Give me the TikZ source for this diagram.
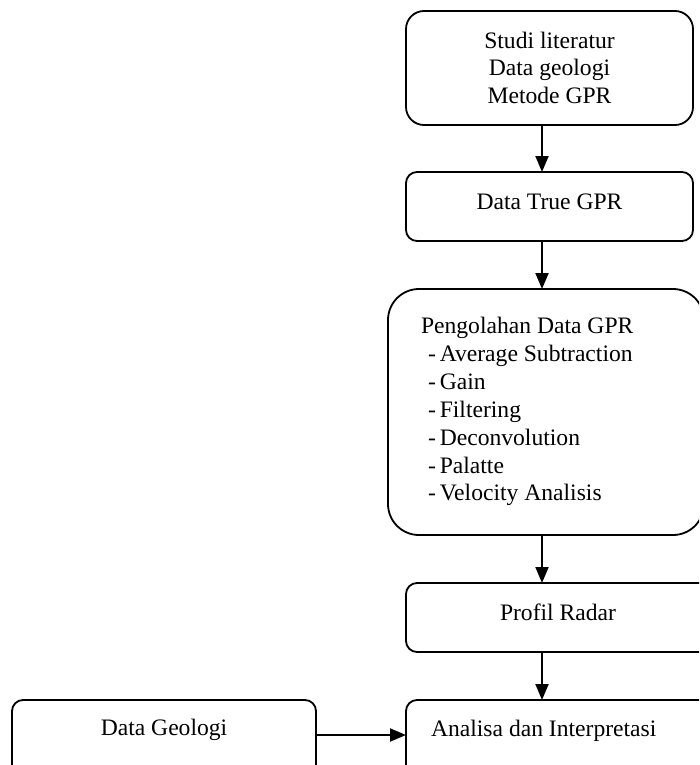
\documentclass[tikz,border=0pt]{standalone}
\usepackage{fontspec}
\setmainfont{Liberation Serif}
\usetikzlibrary{arrows.meta}
\begin{document}
\begin{tikzpicture}[x=1pt,y=-1pt,
  box/.style={draw=black, line width=1.8pt, rectangle, inner sep=0pt, outer sep=0pt},
  lbl/.style={inner sep=0pt, outer sep=0pt, font=\fontsize{23.6}{27.8}\selectfont},
  arr/.style={line width=2pt, -{Triangle[length=16pt,width=13pt]}}]
\useasboundingbox (0,0) rectangle (699,765);
\clip (0,0) rectangle (699,765);
% boxes
\node[box, minimum width=287pt, minimum height=114pt, rounded corners=18pt] (b1) at (549.5,68) {};
\node[box, minimum width=287pt, minimum height=69pt, rounded corners=11pt] (b2) at (549.5,206.5) {};
\node[box, minimum width=316pt, minimum height=246pt, rounded corners=31pt] (b3) at (546,412) {};
\node[box, minimum width=306pt, minimum height=69pt, rounded corners=11pt] (b4) at (559,617.5) {};
\node[box, minimum width=306pt, minimum height=90pt, rounded corners=11pt] (b5) at (559,745) {};
\node[box, minimum width=304pt, minimum height=90pt, rounded corners=11pt] (dg) at (164,745) {};
% texts
\node[lbl, anchor=base] (t1a) at (549.5,49) {Studi literatur};
\node[lbl, anchor=base] (t1b) at (549.5,76) {Data geologi};
\node[lbl, anchor=base] (t1c) at (549.5,103) {Metode GPR};
\node[lbl, anchor=base] (t2) at (549.5,209) {Data True GPR};
\node[lbl, anchor=base west] (t3a) at (421,333) {Pengolahan Data GPR};
\node[lbl, anchor=base west] (t3b) at (428,361) {-\,Average Subtraction};
\node[lbl, anchor=base west] (t3c) at (428,389) {-\,Gain};
\node[lbl, anchor=base west] (t3d) at (428,417) {-\,Filtering};
\node[lbl, anchor=base west] (t3e) at (428,445) {-\,Deconvolution};
\node[lbl, anchor=base west] (t3f) at (428,473) {-\,Palatte};
\node[lbl, anchor=base west] (t3g) at (428,500) {-\,Velocity Analisis};
\node[lbl, anchor=base] (t4) at (558,620) {Profil Radar};
\node[lbl, anchor=base west] (t5) at (431,736) {Analisa dan Interpretasi};
\node[lbl, anchor=base] (tdg) at (164,735) {Data Geologi};
% connectors
\draw[arr] (542,0 |- b1.south) -- (542,0 |- b2.north);
\draw[arr] (542,0 |- b2.south) -- (542,0 |- b3.north);
\draw[arr] (542,0 |- b3.south) -- (542,0 |- b4.north);
\draw[arr] (542,0 |- b4.south) -- (542,0 |- b5.north);
\draw[arr] (dg.east |- 0,735) -- (b5.west |- 0,735);
\end{tikzpicture}
\end{document}
